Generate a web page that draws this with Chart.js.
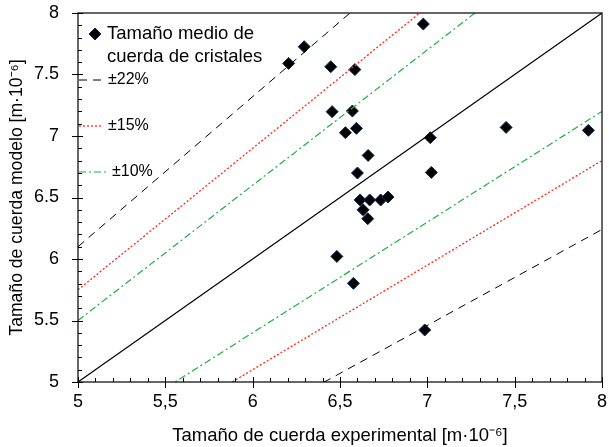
<!DOCTYPE html>
<html>
<head>
<meta charset="utf-8">
<script src="https://cdn.jsdelivr.net/npm/chart.js@4"></script>
<style>
  html, body { margin: 0; padding: 0; background: #fff; }
  #wrap { width: 609px; height: 447px; position: relative; }
</style>
</head>
<body>
<div id="wrap"><canvas id="chart"></canvas></div>
<script>
// Data (experimental vs model chord size, m·10^-6)
const expSize = [6.977, 6.295, 6.206, 6.447, 6.585, 6.455, 6.571, 6.594, 6.531, 6.661,
                 7.017, 6.600, 7.023, 6.615, 6.670, 6.733, 6.775, 6.632, 6.659, 6.482,
                 6.577, 6.985, 7.451, 7.922];
const modelSize = [7.91, 7.726, 7.59, 7.563, 7.54, 7.198, 7.203, 7.062, 7.027, 6.842,
                   6.986, 6.699, 6.704, 6.48, 6.48, 6.48, 6.504, 6.40, 6.328, 6.021,
                   5.802, 5.423, 7.07, 7.046];
const bandPercents = [22, 15, 10];
const legendLabels = ['Tamaño medio de', 'cuerda de cristales'];
const axisRange = [5, 8];

const FONT = "'Liberation Sans', Arial, sans-serif";
const bandStyle = {
  22: { color: '#000000', dash: [8, 6], width: 1 },
  15: { color: '#ff2a1a', dash: [2, 2], width: 1.3 },
  10: { color: '#1fae45', dash: [7, 3, 2, 3], width: 1.2 }
};

function lineSet(factor, style) {
  return {
    type: 'line',
    data: axisRange.map(v => ({ x: v, y: v * factor })),
    borderColor: style.color,
    borderWidth: style.width,
    borderDash: style.dash,
    pointRadius: 0,
    fill: false
  };
}

const datasets = [];
bandPercents.forEach(p => {
  datasets.push(lineSet(1 + p / 100, bandStyle[p]));
  datasets.push(lineSet(1 - p / 100, bandStyle[p]));
});
datasets.push(lineSet(1, { color: '#000', dash: [], width: 1.2 }));
datasets.push({
  type: 'scatter',
  data: expSize.map((x, i) => ({ x, y: modelSize[i] })),
  pointStyle: 'rectRot',
  pointRadius: 6,
  backgroundColor: '#000',
  borderColor: '#0d2a55',
  borderWidth: 1
});

// frame, ticks and legend
const decor = {
  id: 'decor',
  afterDraw(chart) {
    const { ctx, chartArea: a, scales } = chart;
    ctx.save();
    ctx.strokeStyle = '#000';
    ctx.lineWidth = 1.2;
    ctx.strokeRect(a.left, a.top, a.right - a.left, a.bottom - a.top);

    ctx.lineWidth = 1;
    ctx.beginPath();
    for (let k = 0; k <= 30; k++) {
      const v = 5 + k * 0.1;
      const major = k % 5 === 0;
      const inLen = major ? 5 : 4, outLen = major ? 6 : 0;
      const px = Math.round(scales.x.getPixelForValue(v)) + 0.5;
      ctx.moveTo(px, a.bottom + outLen); ctx.lineTo(px, a.bottom - inLen);
      const py = Math.round(scales.y.getPixelForValue(v)) + 0.5;
      ctx.moveTo(a.left - outLen, py); ctx.lineTo(a.left + inLen, py);
    }
    ctx.stroke();

    // legend
    ctx.fillStyle = '#000';
    ctx.font = '18.5px ' + FONT;
    ctx.textBaseline = 'middle';
    ctx.textAlign = 'left';
    const dx = 95, dy = 34, r = 6;
    ctx.beginPath();
    ctx.moveTo(dx, dy - r); ctx.lineTo(dx + r, dy); ctx.lineTo(dx, dy + r); ctx.lineTo(dx - r, dy);
    ctx.closePath();
    ctx.fill();
    ctx.strokeStyle = '#0d2a55';
    ctx.stroke();
    ctx.fillText(legendLabels[0], 107, 34);
    ctx.fillText(legendLabels[1], 107, 57);

    const rows = [[22, 80, 108], [15, 126, 108], [10, 172, 112]];
    ctx.font = '16px ' + FONT;
    rows.forEach(([p, y, tx]) => {
      const s = bandStyle[p];
      ctx.strokeStyle = s.color;
      ctx.lineWidth = s.width;
      ctx.setLineDash(s.dash);
      ctx.beginPath();
      ctx.moveTo(a.left + 1, y); ctx.lineTo(tx - 6, y);
      ctx.stroke();
      ctx.setLineDash([]);
      ctx.fillText('±' + p + '%', tx, y);
    });
    ctx.restore();
  }
};

new Chart(document.getElementById('chart'), {
  type: 'scatter',
  data: { datasets },
  plugins: [decor],
  options: {
    responsive: true,
    maintainAspectRatio: false,
    animation: false,
    layout: { padding: { left: 0, right: -2, top: 13, bottom: 0 } },
    plugins: { legend: { display: false }, tooltip: { enabled: false } },
    scales: {
      x: {
        type: 'linear', min: 5, max: 8,
        grid: { display: false, drawTicks: false },
        border: { display: false },
        ticks: {
          stepSize: 0.5, padding: 9, color: '#000',
          font: { family: FONT, size: 18 },
          callback: v => String(v).replace('.', ',')
        },
        title: {
          display: true, text: 'Tamaño de cuerda experimental [m·10⁻⁶]',
          color: '#000', font: { family: FONT, size: 18.5 }, padding: { top: 0, bottom: 0 }
        },
        afterFit: s => { s.height = 65; s.paddingLeft = 0; s.paddingRight = 0; }
      },
      y: {
        type: 'linear', min: 5, max: 8,
        grid: { display: false, drawTicks: false },
        border: { display: false },
        ticks: {
          stepSize: 0.5, padding: 19, color: '#000',
          font: { family: FONT, size: 18 },
          callback: v => String(v)
        },
        title: {
          display: true, text: 'Tamaño de cuerda modelo [m·10⁻⁶]',
          color: '#000', font: { family: FONT, size: 17.6 }, padding: { top: 7, bottom: 0 }
        },
        afterFit: s => { s.width = 78; s.paddingTop = 0; s.paddingBottom = 0; }
      }
    }
  }
});
</script>
</body>
</html>
